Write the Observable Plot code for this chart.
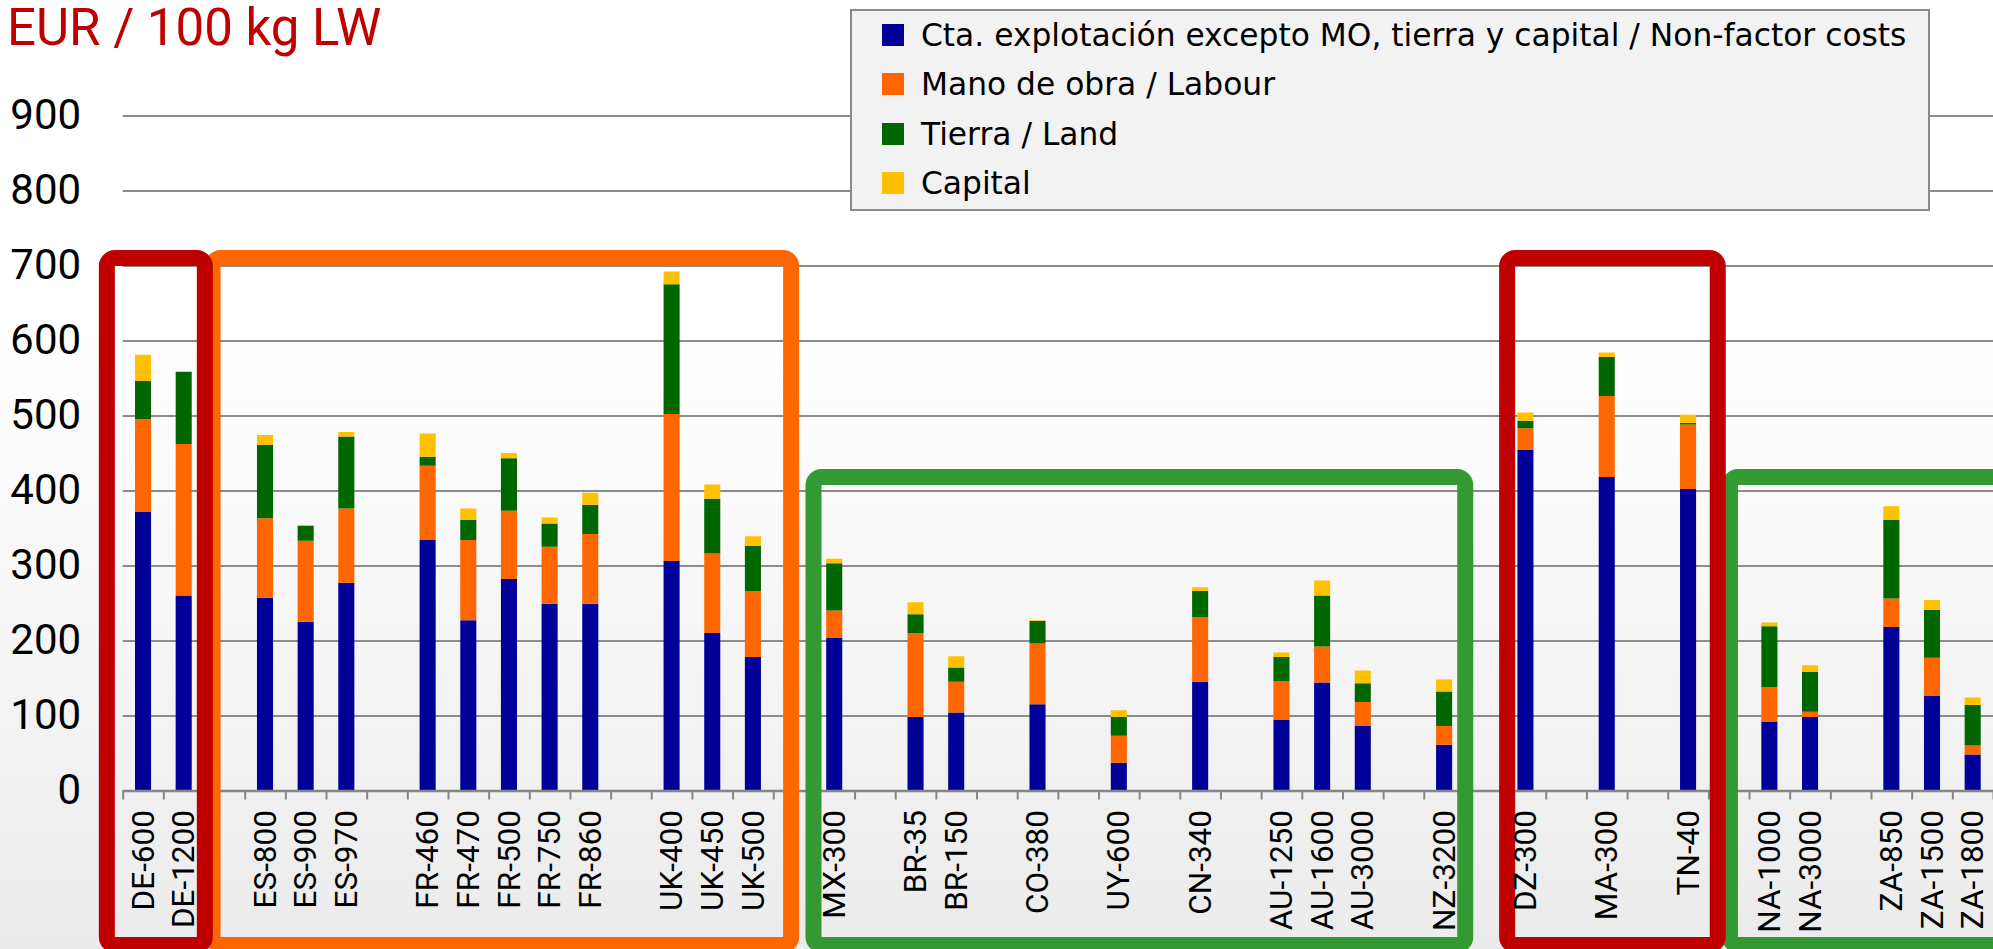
<!DOCTYPE html>
<html>
<head>
<meta charset="utf-8">
<script src="https://cdn.jsdelivr.net/npm/d3@7"></script>
<script src="https://cdn.jsdelivr.net/npm/@observablehq/plot@0.6"></script>
<style>
  html, body { margin: 0; padding: 0; }
  body {
    width: 1993px; height: 949px; overflow: hidden; position: relative;
    background: linear-gradient(to bottom, #ffffff 0px, #ffffff 330px, #f6f6f6 620px, #ebebeb 949px);
  }
  #chart { position: absolute; left: 0; top: 0; }
  #title {
    position: absolute; left: 7px; top: 1px; margin: 0;
    font-family: Roboto, "Liberation Sans", sans-serif; font-size: 51px; line-height: 54px;
    color: #C00000; font-weight: normal; white-space: nowrap;
  }
  #legend {
    position: absolute; left: 850px; top: 9px; width: 1080px; height: 202px;
    background: #f2f2f2; border: 2.5px solid #8a8a8a; box-sizing: border-box;
    font-family: "DejaVu Sans", Verdana, sans-serif; font-size: 31.3px; color: #000;
  }
  .lg-row { position: absolute; left: 0; height: 49px; line-height: 49px; white-space: nowrap; }
  .lg-sw { position: absolute; left: 30px; width: 22px; height: 22px; }
  .lg-tx { position: absolute; left: 69px; top: 0; }
</style>
</head>
<body>
<div id="chart"></div>
<div id="title">EUR / 100 kg LW</div>
<div id="legend"></div>
<script>
// ---- Data ----
const slots = ["DE-600","DE-1200","","ES-800","ES-900","ES-970","","FR-460","FR-470","FR-500","FR-750","FR-860","",
  "UK-400","UK-450","UK-500","","MX-300","","BR-35","BR-150","","CO-380","","UY-600","","CN-340","",
  "AU-1250","AU-1600","AU-3000","","NZ-3200","","DZ-300","","MA-300","","TN-40","","NA-1000","NA-3000","",
  "ZA-850","ZA-1500","ZA-1800"];

const seriesNames = [
  "Cta. explotación excepto MO, tierra y capital / Non-factor costs",
  "Mano de obra / Labour",
  "Tierra / Land",
  "Capital"
];
const seriesColors = ["#000099", "#FF6600", "#006600", "#FFC000"];

const nonFactor = [372,260,null,257,225,277,null,334,227,282,249,249,null,306,210,178,null,204,null,98,104,null,115,null,37,null,145,null,94,144,86,null,61,null,454,null,418,null,402,null,92,98,null,218,126,48];
const labour    = [123,202,null,106,108,99,null,99,107,91,76,93,null,196,106,88,null,36,null,112,41,null,81,null,36,null,86,null,52,48,32,null,25,null,29,null,108,null,86,null,46,7,null,38,51,12];
const land      = [51,96,null,98,20,96,null,12,27,70,31,39,null,173,73,60,null,63,null,25,19,null,30,null,25,null,35,null,32,68,25,null,46,null,10,null,52,null,2,null,81,53,null,105,64,54];
const capital   = [35,1,null,13,1,6,null,31,15,7,8,16,null,17,19,13,null,6,null,16,15,null,1,null,9,null,5,null,6,20,17,null,16,null,11,null,6,null,11,null,5,9,null,18,13,10];

const yTicks = [0,100,200,300,400,500,600,700,800,900];

// group frames (in slot units / value units)
const groupBoxes = [
  {name: "EU-orange", x1: 2.21, x2: 16.44, y1: -206, y2: 710, color: "#FF6600"},
  {name: "green-1",   x1: 16.99, x2: 33.02, y1: -206, y2: 418, color: "#339933"},
  {name: "green-2",   x1: 39.53, x2: 47.5,  y1: -206, y2: 418, color: "#339933"},
  {name: "red-1",     x1: -0.39, x2: 2.02,  y1: -206, y2: 710, color: "#C00000"},
  {name: "red-2",     x1: 34.05, x2: 39.23, y1: -206, y2: 710, color: "#C00000"}
];

// ---- Build long table ----
const seriesValues = [nonFactor, labour, land, capital];
const rows = [];
slots.forEach((label, i) => {
  seriesValues.forEach((arr, k) => {
    if (arr[i] != null) rows.push({i, label, series: seriesNames[k], value: arr[i]});
  });
});
const labelRows = slots.map((label, i) => ({i, label})).filter(d => d.label !== "");

const boxMarks = groupBoxes.map(b => Plot.rect([b], {
  x1: "x1", x2: "x2", y1: "y1", y2: "y2",
  fill: "none", stroke: b.color, strokeWidth: 16, rx: 8
}));

const chart = Plot.plot({
  width: 1993,
  height: 949,
  marginLeft: 122.7,
  marginRight: 0,
  marginTop: 115.5,
  marginBottom: 158.5,
  style: {background: "transparent", fontFamily: "Roboto, 'Liberation Sans', sans-serif", overflow: "visible"},
  x: {type: "linear", domain: [0, 46], axis: null},
  y: {domain: [0, 900], axis: null},
  color: {domain: seriesNames, range: seriesColors},
  marks: [
    Plot.gridY(yTicks.filter(d => d > 0), {stroke: "#8c8c8c", strokeOpacity: 1, strokeWidth: 2}),
    Plot.axisY(yTicks, {tickSize: 0, tickPadding: 42, fontSize: 42, fill: "#000", label: null}),
    Plot.rectY(rows, {x1: "i", x2: d => d.i + 1, y: "value", fill: "series", insetLeft: 12.3, insetRight: 12.3}),
    Plot.ruleY([0], {stroke: "#868686", strokeWidth: 2.5}),
    Plot.axisX(d3.range(0, 47), {tickSize: 9, tickFormat: () => "", stroke: "#868686", strokeWidth: 2, label: null}),
    ...boxMarks,
    Plot.text(labelRows, {x: d => d.i + 0.5, y: 0, text: "label", rotate: -90, textAnchor: "end",
      dy: 19, fontSize: 31.5, fill: "#000"})
  ]
});
document.getElementById("chart").appendChild(chart);

// ---- Legend ----
const legend = document.getElementById("legend");
seriesNames.forEach((name, k) => {
  const row = document.createElement("div");
  row.className = "lg-row";
  row.style.top = (0 + k * 49.3) + "px";
  const sw = document.createElement("div");
  sw.className = "lg-sw";
  sw.style.background = seriesColors[k];
  sw.style.top = "13px";
  const tx = document.createElement("span");
  tx.className = "lg-tx";
  tx.textContent = name;
  row.appendChild(sw);
  row.appendChild(tx);
  legend.appendChild(row);
});
</script>
</body>
</html>
